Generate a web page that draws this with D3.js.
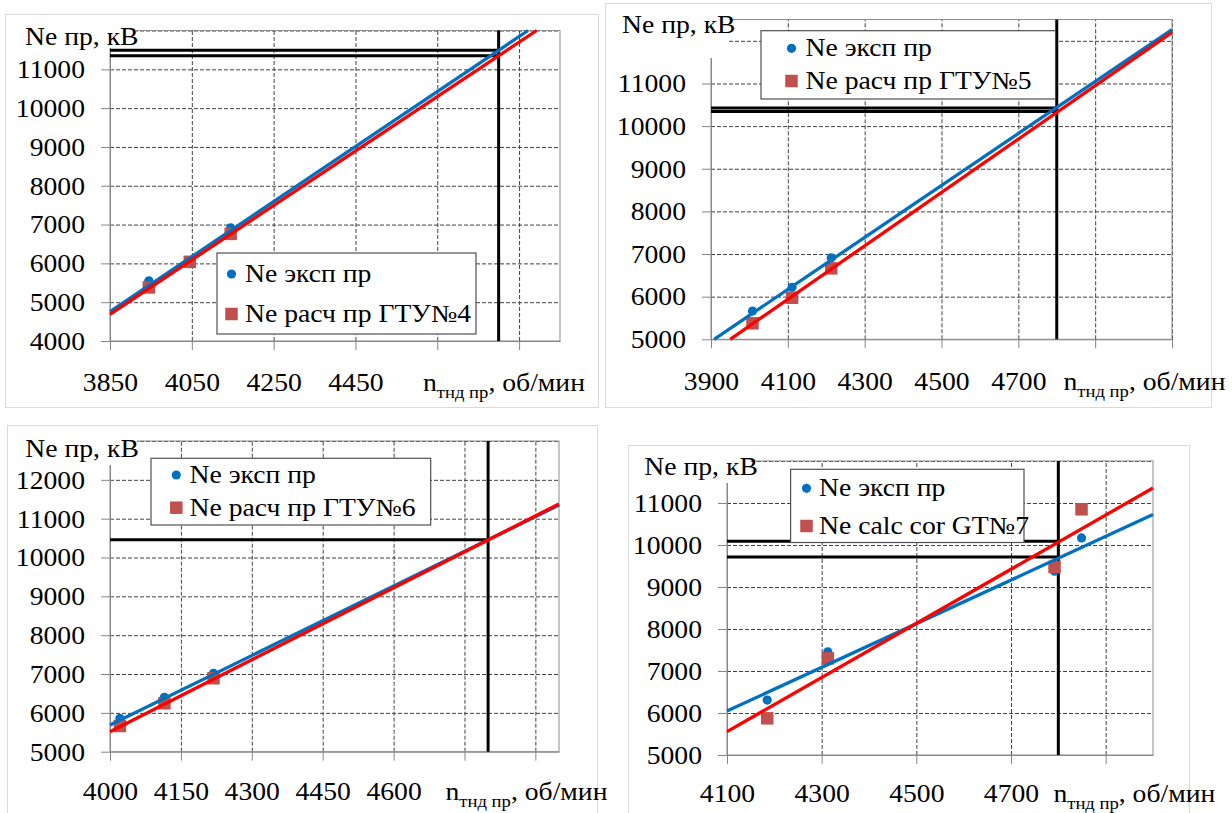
<!DOCTYPE html>
<html>
<head>
<meta charset="utf-8">
<script src="https://cdn.jsdelivr.net/npm/d3@7"></script>
<style>
  body { margin: 0; background: #fff; }
  svg { display: block; }
</style>
</head>
<body>
<svg id="chart" width="1232" height="813"></svg>
<script>
// ---------- ГТУ №4 ----------
const gtu4Rpm = [3945, 4045, 4145];
const gtu4Exp = [5550, 6060, 6915];
const gtu4Calc = [5380, 6040, 6760];
const gtu4ExpTrend = [[3850, 4755], [4872, 12000]];
const gtu4CalcTrend = [[3850, 4685], [4893, 12000]];
const gtu4RefRpm = 4800;
const gtu4RefPower = [11490, 11350];
const gtu4XLabels = [3850, 4050, 4250, 4450];
const gtu4YLabels = [4000, 5000, 6000, 7000, 8000, 9000, 10000, 11000];

// ---------- ГТУ №5 ----------
const gtu5Rpm = [4008, 4111, 4213];
const gtu5Exp = [5663, 6219, 6913];
const gtu5Calc = [5375, 5975, 6664];
const gtu5ExpTrend = [[3908, 5000], [5100, 12265]];
const gtu5CalcTrend = [[3950, 5000], [5100, 12200]];
const gtu5RefRpm = 4800;
const gtu5RefPower = [10425, 10345];
const gtu5XLabels = [3900, 4100, 4300, 4500, 4700];
const gtu5YLabels = [5000, 6000, 7000, 8000, 9000, 10000, 11000];

// ---------- ГТУ №6 ----------
const gtu6Rpm = [4021, 4115, 4219];
const gtu6Exp = [5860, 6400, 7020];
const gtu6Calc = [5662, 6247, 6891];
const gtu6ExpTrend = [[4000, 5688], [4950, 11350]];
const gtu6CalcTrend = [[4000, 5515], [4950, 11380]];
const gtu6RefRpm = 4800;
const gtu6RefPower = [10455];
const gtu6XLabels = [4000, 4150, 4300, 4450, 4600];
const gtu6YLabels = [5000, 6000, 7000, 8000, 9000, 10000, 11000, 12000];

// ---------- GT №7 ----------
const gt7Rpm = [4185, 4313, 4792, 4849];
const gt7Exp = [6308, 7457, 9376, 10168];
const gt7Calc = [5873, 7300, 9478, 10850];
const gt7ExpTrend = [[4100, 6046], [5000, 10724]];
const gt7CalcTrend = [[4100, 5555], [5000, 11357]];
const gt7RefRpm = 4800;
const gt7RefPower = [10089, 9716];
const gt7XLabels = [4100, 4300, 4500, 4700];
const gt7YLabels = [5000, 6000, 7000, 8000, 9000, 10000, 11000];

const expName = "Ne эксп пр";
const yTitle = "Ne пр, кВ";

const FONT = "Liberation Serif";
const FS = 24.5;     // font size of all chart text
const SX = 1.13;     // horizontal widening of the glyphs
const BLUE = "#0070C0";
const RED_LINE = "#FF0000";
const RED_MARK = "#C0504D";

const panels = [
  {
    rpm: gtu4Rpm, exp: gtu4Exp, calc: gtu4Calc,
    expTrend: gtu4ExpTrend, calcTrend: gtu4CalcTrend,
    refRpm: gtu4RefRpm, refPower: gtu4RefPower,
    xLabels: gtu4XLabels, yLabels: gtu4YLabels,
    calcName: "Ne расч пр ГТУ№4",
    xDomain: [3850, 4950], xStep: 200, yDomain: [4000, 12000], yStep: 1000,
    frame: [5, 14, 598, 407],
    plot: { l: 110, r: 560, t: 30.5, b: 341 },
    legend: { x: 217, y: 253, w: 259, h: 81, r1: 274, r2: 314, mx: 231.5, tx: 245 },
    title: { x: 25, y: 45, box: [18, 20, 136, 48] },
    axisTitle: { x: 423, y: 390.5 },
    labelDrop: 49.5
  },
  {
    rpm: gtu5Rpm, exp: gtu5Exp, calc: gtu5Calc,
    expTrend: gtu5ExpTrend, calcTrend: gtu5CalcTrend,
    refRpm: gtu5RefRpm, refPower: gtu5RefPower,
    xLabels: gtu5XLabels, yLabels: gtu5YLabels,
    calcName: "Ne расч пр ГТУ№5",
    xDomain: [3900, 5100], xStep: 200, yDomain: [5000, 12500], yStep: 1000,
    frame: [605, 3, 1211, 407],
    plot: { l: 711, r: 1172, t: 19.5, b: 339.3 },
    legend: { x: 761, y: 30.7, w: 294.5, h: 68.3, r1: 48.3, r2: 81, mx: 791.5, tx: 805.5 },
    title: { x: 622, y: 33.3, box: [615, 6, 729, 58] },
    axisTitle: { x: 1063.5, y: 390 },
    labelDrop: 50.5
  },
  {
    rpm: gtu6Rpm, exp: gtu6Exp, calc: gtu6Calc,
    expTrend: gtu6ExpTrend, calcTrend: gtu6CalcTrend,
    refRpm: gtu6RefRpm, refPower: gtu6RefPower,
    xLabels: gtu6XLabels, yLabels: gtu6YLabels,
    calcName: "Ne расч пр ГТУ№6",
    xDomain: [4000, 4950], xStep: 150, yDomain: [5000, 13000], yStep: 1000,
    frame: [7, 425, 597, 830],
    plot: { l: 110, r: 559, t: 441, b: 751.7 },
    legend: { x: 151, y: 458.3, w: 279.7, h: 66.7, r1: 475, r2: 507.7, mx: 176.3, tx: 189.5 },
    title: { x: 25.3, y: 456.7, box: [18, 428, 137, 465] },
    axisTitle: { x: 445.5, y: 800 },
    labelDrop: 48.3
  },
  {
    rpm: gt7Rpm, exp: gt7Exp, calc: gt7Calc,
    expTrend: gt7ExpTrend, calcTrend: gt7CalcTrend,
    refRpm: gt7RefRpm, refPower: gt7RefPower,
    xLabels: gt7XLabels, yLabels: gt7YLabels,
    calcName: "Ne calc cor GT№7",
    xDomain: [4100, 5000], xStep: 200, yDomain: [5000, 12000], yStep: 1000,
    frame: [628, 445, 1189, 830],
    plot: { l: 727, r: 1153, t: 461, b: 755 },
    legend: { x: 790.6, y: 469.3, w: 233.4, h: 73.2, r1: 488.3, r2: 526, mx: 806.5, tx: 819 },
    title: { x: 644.3, y: 475, box: [638, 450, 751, 483] },
    axisTitle: { x: 1053.4, y: 802 },
    labelDrop: 47
  }
];

const svg = d3.select("#chart");

// places a widened text with its anchor at (x, y)
function label(parent, x, y, str) {
  return parent.append("text")
    .attr("transform", `translate(${x},${y}) scale(${SX},1)`)
    .attr("font-family", FONT).attr("font-size", FS).attr("fill", "#000")
    .text(str);
}

function drawPanel(cfg) {
  const p = cfg.plot;
  const g = svg.append("g");
  const x = d3.scaleLinear().domain(cfg.xDomain).range([p.l, p.r]);
  const y = d3.scaleLinear().domain(cfg.yDomain).range([p.b, p.t]);
  const xTicks = d3.range(cfg.xDomain[0], cfg.xDomain[1] + 1e-6, cfg.xStep);
  const yTicks = d3.range(cfg.yDomain[0], cfg.yDomain[1] + 1e-6, cfg.yStep);

  // outer frame of the chart
  const f = cfg.frame;
  g.append("rect")
    .attr("x", f[0] + 0.5).attr("y", f[1] + 0.5)
    .attr("width", f[2] - f[0]).attr("height", f[3] - f[1])
    .attr("fill", "#fff").attr("stroke", "#d9d9d9");

  // dashed grid
  g.append("g")
    .attr("transform", `translate(0,${p.b})`)
    .call(d3.axisBottom(x).tickValues(xTicks.slice(1)).tickSize(-(p.b - p.t)).tickSizeOuter(0).tickFormat(""))
    .call(s => s.select(".domain").remove())
    .selectAll("line").attr("stroke", "#404040").attr("stroke-dasharray", "4,2");
  g.append("g")
    .attr("transform", `translate(${p.l},0)`)
    .call(d3.axisLeft(y).tickValues(yTicks.slice(1)).tickSize(-(p.r - p.l)).tickSizeOuter(0).tickFormat(""))
    .call(s => s.select(".domain").remove())
    .selectAll("line").attr("stroke", "#404040").attr("stroke-dasharray", "4,2");

  // plot area border
  g.append("rect")
    .attr("x", p.l).attr("y", p.t).attr("width", p.r - p.l).attr("height", p.b - p.t)
    .attr("fill", "none").attr("stroke", "#8c8c8c");

  // axes
  const xa = g.append("g")
    .attr("transform", `translate(0,${p.b})`)
    .call(d3.axisBottom(x).tickValues(xTicks).tickSize(9).tickSizeOuter(0)
      .tickFormat(d => cfg.xLabels.includes(d) ? String(d) : ""));
  const ya = g.append("g")
    .attr("transform", `translate(${p.l},0)`)
    .call(d3.axisLeft(y).tickValues(yTicks.filter(v => v < cfg.yDomain[1] - 1e-6 || cfg.yLabels.includes(v))).tickSize(9).tickSizeOuter(0)
      .tickFormat(d => cfg.yLabels.includes(d) ? String(d) : ""));
  [xa, ya].forEach(a => {
    a.attr("font-family", FONT).attr("font-size", FS);
    a.selectAll(".domain, line").attr("stroke", "#868686");
    a.selectAll("text").attr("fill", "#000");
  });
  xa.selectAll("text")
    .attr("x", 0).attr("y", 0).attr("dy", null)
    .attr("transform", `translate(0,${cfg.labelDrop}) scale(${SX},1)`);
  ya.selectAll("text")
    .attr("x", 0).attr("dy", "0.34em")
    .attr("transform", `translate(-25,0) scale(${SX},1)`);

  // reference lines at the rated speed
  const ref = g.append("g").attr("stroke", "#000").attr("stroke-width", 3);
  ref.append("line")
    .attr("x1", x(cfg.refRpm)).attr("x2", x(cfg.refRpm))
    .attr("y1", p.t).attr("y2", p.b);
  ref.selectAll("line.h").data(cfg.refPower).join("line").attr("class", "h")
    .attr("x1", p.l).attr("x2", x(cfg.refRpm))
    .attr("y1", d => y(d)).attr("y2", d => y(d));

  // measured points
  g.append("g").selectAll("circle").data(cfg.rpm.map((r, i) => [r, cfg.exp[i]])).join("circle")
    .attr("cx", d => x(d[0])).attr("cy", d => y(d[1])).attr("r", 4.6).attr("fill", BLUE);
  // calculated points
  const s = 12.5;
  g.append("g").selectAll("rect").data(cfg.rpm.map((r, i) => [r, cfg.calc[i]])).join("rect")
    .attr("x", d => x(d[0]) - s / 2).attr("y", d => y(d[1]) - s / 2)
    .attr("width", s).attr("height", s).attr("fill", RED_MARK);

  // linear trend lines
  const line = d3.line().x(d => x(d[0])).y(d => y(d[1]));
  g.append("path").attr("d", line(cfg.expTrend)).attr("fill", "none")
    .attr("stroke", BLUE).attr("stroke-width", 3.3);
  g.append("path").attr("d", line(cfg.calcTrend)).attr("fill", "none")
    .attr("stroke", RED_LINE).attr("stroke-width", 3.3);

  // legend
  const L = cfg.legend;
  const lg = g.append("g");
  lg.append("rect").attr("x", L.x).attr("y", L.y).attr("width", L.w).attr("height", L.h)
    .attr("fill", "#fff").attr("stroke", "#505050").attr("stroke-width", 1.2);
  lg.append("circle").attr("cx", L.mx).attr("cy", L.r1).attr("r", 4.6).attr("fill", BLUE);
  lg.append("rect").attr("x", L.mx - s / 2).attr("y", L.r2 - s / 2).attr("width", s).attr("height", s).attr("fill", RED_MARK);
  label(lg, L.tx, L.r1 + 8, expName);
  label(lg, L.tx, L.r2 + 8, cfg.calcName);

  // value axis title on a white box
  const T = cfg.title;
  g.append("rect").attr("x", T.box[0]).attr("y", T.box[1])
    .attr("width", T.box[2] - T.box[0]).attr("height", T.box[3] - T.box[1]).attr("fill", "#fff");
  label(g, T.x, T.y, yTitle);

  // speed axis title with subscript
  const A = cfg.axisTitle;
  const at = label(g, A.x, A.y, null);
  at.append("tspan").text("n");
  at.append("tspan").attr("font-size", 16.5).attr("dy", 7).text("тнд пр");
  at.append("tspan").attr("dy", -7).text(", об/мин");
}

panels.forEach(drawPanel);
</script>
</body>
</html>
